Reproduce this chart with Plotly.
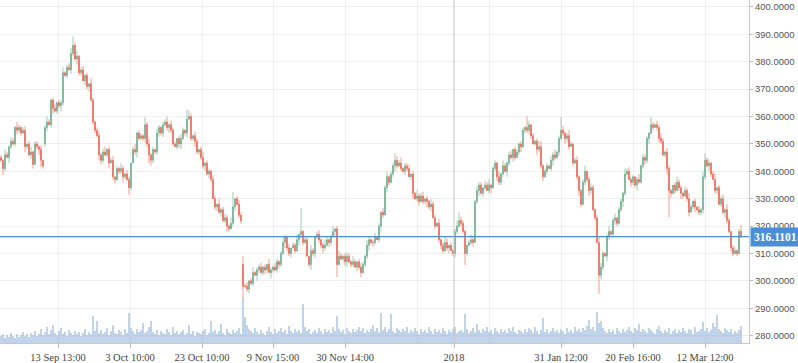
import plotly.graph_objects as go

# ---- data ----
closes = [
    344, 341, 346, 345, 349, 351, 350, 356, 355, 356,
    354, 355, 349, 350, 346, 347, 342.5, 350, 349, 348,
    344, 342, 356, 358, 357, 366, 363, 362, 365, 364,
    365, 376, 375, 378, 377, 383, 386, 381, 382, 376,
    377, 373, 375, 371, 372, 366, 358, 355, 353, 346,
    344, 347, 346, 348, 343, 344, 338, 337, 341, 340,
    341, 338, 339, 337, 334, 343, 348, 347, 354, 352,
    353, 352, 357, 350, 346, 344, 348, 347, 354, 356,
    354, 357, 358, 356, 357, 355, 350, 349, 352, 350,
    352, 355, 354, 359, 360, 352, 353, 351, 347, 348,
    345, 342, 343, 339, 340, 337, 330, 327, 328, 325,
    326, 322, 323, 320, 319, 321, 327, 330, 328, 324,
    322, 298, 298, 297, 300, 299, 303, 302, 304, 305,
    303, 305, 304, 306, 303, 304, 305, 304, 307, 306,
    310, 314, 316, 312, 310, 312, 313, 311, 315, 317,
    318, 314, 315, 309, 306, 311, 310, 316, 317, 315,
    313, 312, 313, 315, 314, 316, 318, 319, 306, 309,
    308, 309, 307, 309, 307, 306, 307, 305, 307, 305,
    303, 306, 309, 313, 315, 314, 314, 316, 315, 320,
    325, 324, 334, 338, 336, 339, 342, 344, 342, 343,
    341, 340, 342, 341, 338, 339, 332, 330, 331, 329,
    331, 329, 330, 329, 327, 328, 323, 320, 321, 315,
    313, 311, 314, 312, 313, 311, 310, 318, 320, 322,
    321, 318, 310, 313, 314, 315, 314, 329, 333, 335,
    332, 334, 335, 333, 335, 334, 341, 343, 338, 336,
    339, 342, 340, 343, 346, 345, 348, 345, 347, 350,
    349, 355, 356, 355, 357, 353, 350, 351, 348, 349,
    342, 338, 340, 342, 341, 344, 346, 345, 347, 352,
    355, 354, 352, 353, 349, 350, 343, 344, 338, 333,
    328, 336, 340, 337, 333, 334, 326, 323, 314, 302,
    305, 310, 309, 316, 318, 317, 322, 323, 321, 326,
    329, 332, 339, 340, 337, 336, 338, 335, 337, 336,
    342, 345, 344, 352, 354, 357, 356, 357, 356, 352,
    351, 346, 347, 341, 333, 332, 335, 333, 336, 334,
    332, 331, 333, 330, 325, 327, 329, 327, 326, 325,
    326, 338, 344, 342, 343, 339, 337, 333, 334, 328,
    330, 325, 326, 322, 318, 312, 310, 311, 310, 318,
    316.1101,
]
first_open = 345
open_gaps = {22: 350, 121: 306}          # session gaps: open differs from prior close
# upper / lower wick lengths above/below the body (price units)
hi_ext = [
    1, 0.5, 2, 1, 0, 1.5, 1, 0.5, 2, 1,
    0.5, 1, 1.5, 0, 1, 2, 0.5, 1, 1, 0.5,
    1.5, 0, 1, 2, 1, 0.5, 1, 1.5, 0.5, 1,
    1, 2, 0.5, 1, 1.5, 1, 0, 1, 2, 0.5,
    1, 1.5, 0.5, 1, 0, 2, 1, 0.5, 1, 1.5,
    0.5, 1, 2, 0.5, 1, 1, 1.5, 0, 1, 0.5,
    2, 1, 0.5, 1.5, 1, 0, 1, 2, 0.5, 1,
    1, 0.5, 1.5, 1, 2, 0.5, 1, 0, 1.5, 1,
    0.5, 1, 1, 2, 0.5, 1.5, 1, 0.5, 0, 1,
    1.5, 1, 0.5, 1, 2, 1, 0.5, 1.5, 1, 0,
    1, 2, 0.5, 1, 1, 0.5, 1.5, 1, 0, 2,
    0.5, 1, 1.5, 1, 0.5, 2, 1, 0, 1, 1.5,
    1, 0.5, 1, 1.5, 0, 1, 2, 0.5, 1, 1,
    1.5, 0.5, 1, 0, 2, 1, 0.5, 1.5, 1, 0.5,
    1, 2, 1, 0.5, 1.5, 0, 1, 1, 2, 0.5,
    1, 0.5, 1.5, 1, 0, 2, 1, 0.5, 1, 1.5,
    0.5, 1, 2, 1, 0.5, 1, 1.5, 0, 1, 2,
    1, 0.5, 1, 1.5, 1, 0.5, 2, 1, 0, 1,
    1.5, 1, 0.5, 2, 1, 0.5, 1, 1.5, 0, 1,
    0.5, 1.5, 1, 2, 0.5, 1, 1, 0, 1.5, 1,
    2, 0.5, 1, 1, 1.5, 0, 1, 0.5, 2, 1,
    1, 1.5, 0, 1, 0.5, 2, 1, 1, 0.5, 1.5,
    0.5, 1, 2, 1.5, 0, 1, 0.5, 1, 2, 1,
    1.5, 1, 0.5, 0, 1, 2, 1, 0.5, 1.5, 1,
    1, 0, 1.5, 1, 2, 0.5, 1, 1, 0.5, 2,
    0.5, 2, 1, 0.5, 1, 1.5, 0, 1, 1, 0.5,
    1, 1, 0.5, 2, 1.5, 0, 1, 0.5, 1, 2,
    2, 0.5, 1, 1, 0, 1.5, 1, 2, 0.5, 1,
    1, 1.5, 0.5, 1, 2, 1, 0, 1, 1.5, 0.5,
    0.5, 1, 2, 0, 1, 1.5, 1, 0.5, 1, 2,
    1.5, 1, 0.5, 1, 2, 0.5, 1, 1.5, 0, 1,
    1, 0.5, 2, 1, 1.5, 1, 0.5, 0, 1, 2,
    0.5, 1.5, 1, 1, 0, 2, 1, 0.5, 1.5, 1,
    2, 1, 0.5, 1.5, 1, 0.5, 0, 1, 2, 1,
    1, 0.5, 1.5, 1, 2, 1, 0.5, 1, 0, 1.5,
    0.5, 2, 1, 1, 1.5, 0.5, 1, 2, 0.5, 1,
    1, 1.5, 0.5, 2, 1, 0, 1, 1.5, 0.5, 1,
    1,
]
lo_ext = [
    0.5, 1.5, 1, 0, 2, 1, 0.5, 1, 1.5, 1,
    1, 0.5, 2, 1, 0.5, 1.5, 1, 0, 1, 2,
    0.5, 1, 1, 1.5, 0, 1, 2, 0.5, 1, 1,
    2, 1, 0.5, 1, 0, 1.5, 1, 0.5, 2, 1,
    1, 0, 1.5, 1, 2, 0.5, 1, 1, 0.5, 2,
    1.5, 1, 0.5, 1, 2, 0, 1, 1.5, 0.5, 1,
    1, 2, 1, 0.5, 1.5, 1, 0, 1, 2, 0.5,
    0.5, 1, 1.5, 1, 0, 2, 1, 0.5, 1, 1.5,
    1, 1.5, 0.5, 1, 2, 1, 0.5, 0, 1, 1.5,
    2, 0.5, 1, 1.5, 0, 1, 1, 2, 0.5, 1,
    1, 1, 2, 0.5, 1.5, 1, 0, 1, 1.5, 0.5,
    1.5, 0.5, 1, 2, 1, 0, 1, 1.5, 0.5, 1,
    1, 2, 0.5, 1, 1.5, 0.5, 1, 0, 2, 1,
    0.5, 1, 1.5, 1, 0, 2, 1, 0.5, 1, 1.5,
    1, 0.5, 2, 1, 1, 1.5, 0, 1, 0.5, 2,
    1.5, 1, 0.5, 0, 1, 2, 1, 1.5, 0.5, 1,
    1, 2, 1, 0.5, 1.5, 1, 0, 2, 1, 0.5,
    0.5, 1, 1.5, 2, 0.5, 1, 1, 0, 1.5, 1,
    1, 0.5, 1, 1, 2, 0.5, 1.5, 1, 0, 1,
    2, 1, 0, 1.5, 1, 0.5, 1, 2, 1, 0.5,
    1, 0.5, 1.5, 1, 0, 1, 2, 0.5, 1, 1.5,
    0.5, 1, 1, 2, 1, 1.5, 0, 1, 0.5, 1,
    1.5, 1, 0.5, 1, 2, 0, 1, 1.5, 1, 0.5,
    1, 0.5, 2, 1, 0.5, 1, 1.5, 0, 1, 2,
    0.5, 1.5, 1, 0, 1, 2, 0.5, 1, 1.5, 1,
    1, 1, 0.5, 2, 1, 0.5, 1.5, 1, 0, 1,
    2, 0.5, 1, 1, 1.5, 1, 0, 0.5, 2, 1,
    1, 1.5, 0.5, 1, 0, 1, 2, 1, 0.5, 1.5,
    0.5, 1, 2, 1.5, 1, 0, 1, 0.5, 1, 2,
    1, 0.5, 1, 1, 2, 1.5, 0.5, 1, 0, 1,
    1.5, 1, 0, 2, 1, 0.5, 1, 1.5, 1, 0.5,
    1, 2, 1, 0.5, 0, 1.5, 1, 1, 2, 0.5,
    0.5, 1, 1.5, 1, 2, 0.5, 1, 0, 1, 1.5,
    1, 0.5, 1, 2, 1, 1.5, 0.5, 1, 0, 1,
    2, 1, 0.5, 1, 1.5, 0, 1, 2, 0.5, 1,
    1, 1.5, 1, 0.5, 2, 1, 0, 1, 1.5, 0.5,
    1, 0.5, 2, 1, 0.5, 1.5, 1, 0.5, 1, 0.5,
    0.5,
]
wick_high = {35: 385, 36: 389.3, 72: 359.8, 93: 362.7, 116: 332.4, 121: 309,
             142: 317, 150: 326.6, 166: 320, 197: 346.6, 229: 325, 263: 360.1,
             280: 359.8, 325: 359.8, 352: 346.6, 370: 320.4}
wick_low = {1: 338.6, 16: 341, 20: 341.5, 64: 331.3, 74: 343, 121: 293,
            168: 301.4, 180: 301.4, 226: 309, 232: 305.8, 299: 295.2, 334: 323.3}

volumes = [
    7, 9, 5, 8, 6, 10, 7, 5, 9, 6,
    8, 11, 7, 9, 6, 10, 8, 12, 7, 9,
    14, 8, 11, 16, 9, 13, 18, 10, 8, 12,
    15, 9, 11, 7, 13, 10, 8, 12, 9, 11,
    7, 10, 14, 8, 11, 9, 27, 12, 22, 10,
    13, 9, 11, 15, 8, 12, 18, 10, 9, 13,
    11, 8, 14, 10, 30, 15, 12, 9, 14, 11,
    13, 20, 10, 12, 16, 22, 11, 9, 13, 8,
    12, 10, 9, 14, 11, 8, 16, 10, 12, 9,
    11, 13, 8, 10, 18, 9, 12, 7, 11, 10,
    9, 12, 14, 8, 10, 22, 11, 13, 9, 12,
    19, 10, 8, 14, 11, 9, 13, 10, 12, 15,
    9, 44, 26, 18, 14, 12, 10, 15, 11, 9,
    13, 10, 8, 12, 16, 11, 9, 14, 10, 12,
    15, 11, 13, 9, 17, 12, 10, 14, 11, 13,
    10, 39, 16, 12, 14, 9, 11, 13, 10, 15,
    12, 9, 14, 11, 13, 10, 16, 12, 27, 14,
    11, 13, 9, 15, 12, 10, 14, 11, 13, 16,
    12, 15, 10, 13, 11, 14, 18, 12, 15, 11,
    30, 13, 16, 11, 14, 29, 12, 10, 15, 13,
    11, 14, 12, 16, 10, 13, 11, 15, 12, 9,
    14, 11, 13, 10, 16, 12, 9, 14, 11, 13,
    10, 15, 12, 9, 13, 11, 14, 16, 10, 12,
    13, 11, 29, 14, 10, 12, 15, 11, 19, 13,
    10, 14, 12, 16, 11, 13, 9, 15, 12, 10,
    14, 11, 13, 10, 15, 12, 16, 11, 9, 13,
    12, 10, 14, 11, 15, 13, 10, 16, 12, 9,
    13, 25, 11, 14, 10, 12, 15, 11, 13, 10,
    14, 12, 9, 15, 11, 13, 10, 16, 12, 14,
    11, 15, 13, 17, 23, 14, 16, 12, 31, 20,
    22, 15, 12, 10, 14, 11, 13, 9, 15, 12,
    10, 14, 11, 13, 16, 12, 10, 15, 13, 19,
    11, 14, 12, 10, 15, 13, 11, 9, 14, 17,
    12, 10, 13, 11, 15, 9, 12, 14, 10, 13,
    11, 15, 12, 10, 14, 13, 9, 16, 11, 12,
    14, 21, 12, 15, 11, 13, 20, 16, 28, 14,
    12, 10, 15, 13, 11, 14, 9, 12, 10, 13,
    17,
]

tick_idx = [28.5, 64.5, 100.5, 136, 172, 226.5, 280, 316, 352]
tick_labels = ["13 Sep 13:00", "3 Oct 10:00", "23 Oct 10:00", "9 Nov 15:00",
               "30 Nov 14:00", "2018", "31 Jan 12:00", "20 Feb 16:00", "12 Mar 12:00"]
grid_idx = [28.5, 64.5, 100.5, 136, 172, 208, 244, 280, 316, 352]
year_idx = 226.5
last_price = 316.1101
price_ticks = [280, 290, 300, 310, 320, 330, 340, 350, 360, 370, 380, 390, 400]

# ---- build OHLC ----
n = len(closes)
assert len(volumes) == n and len(hi_ext) == n and len(lo_ext) == n
idx = list(range(n))
opens = [first_open] + closes[:-1]
for k, v in open_gaps.items():
    opens[k] = v
highs = [max(o, c) + e for o, c, e in zip(opens, closes, hi_ext)]
lows = [min(o, c) - e for o, c, e in zip(opens, closes, lo_ext)]
for k, v in wick_high.items():
    highs[k] = v
for k, v in wick_low.items():
    lows[k] = v

GREEN = "#65a98a"
RED = "#ee5c48"

fig = go.Figure()
fig.add_trace(go.Bar(
    x=idx, y=volumes, yaxis="y2",
    marker=dict(color="rgba(140,174,214,0.55)", line=dict(width=0)),
    width=1.1, showlegend=False, hoverinfo="skip",
))
fig.add_trace(go.Candlestick(
    x=idx, open=opens, high=highs, low=lows, close=closes,
    increasing=dict(line=dict(color=GREEN, width=0.6), fillcolor=GREEN),
    decreasing=dict(line=dict(color=RED, width=0.6), fillcolor=RED),
    whiskerwidth=0, showlegend=False,
))

fig.add_hline(y=last_price, line=dict(color="#4a8fd6", width=1.2))
fig.add_vline(x=year_idx, line=dict(color="#c6c6c6", width=1))

fig.add_annotation(
    x=1, xref="paper", xanchor="left", xshift=1,
    y=last_price, yref="y", yanchor="middle",
    text="<b>%.4f</b>" % last_price, showarrow=False,
    bgcolor="#4a8fd6", borderpad=3,
    font=dict(family="Liberation Serif", size=11.5, color="white"),
)

fig.update_layout(
    width=798, height=363,
    margin=dict(l=0, r=49, t=0, b=20),
    paper_bgcolor="white", plot_bgcolor="white",
    bargap=0,
    xaxis=dict(
        range=[-0.5, 374], rangeslider=dict(visible=False),
        tickmode="array", tickvals=tick_idx, ticktext=tick_labels,
        showgrid=False, zeroline=False,
        ticks="outside", ticklen=4, tickcolor="#bbbbbb",
        showline=True, linecolor="#c8c8c8", linewidth=1,
        tickfont=dict(family="Liberation Serif", size=10.5, color="#444444"),
        minor=dict(tickmode="array", tickvals=grid_idx, showgrid=True,
                   gridcolor="#efefef", gridwidth=1, ticks=""),
    ),
    yaxis=dict(
        side="right", range=[277.3, 402.55],
        tickmode="array", tickvals=price_ticks,
        tickformat=".4f", showgrid=True, gridcolor="#efefef", gridwidth=1,
        zeroline=False, ticks="outside", ticklen=3, tickcolor="#bbbbbb",
        showline=True, linecolor="#c8c8c8", linewidth=1,
        tickfont=dict(family="Liberation Sans", size=9.5, color="#555555"),
    ),
    yaxis2=dict(overlaying="y", range=[0, 343], visible=False, fixedrange=True),
)

fig.write_html("out.html", config={"displayModeBar": False},
               post_script="document.body.style.margin='0px';")
